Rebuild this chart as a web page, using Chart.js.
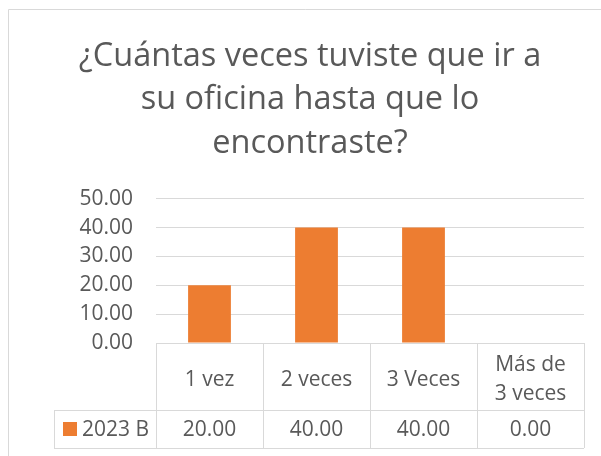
<!DOCTYPE html>
<html><head><meta charset="utf-8">
<script src="https://cdn.jsdelivr.net/npm/chart.js@4"></script>
<style>html,body{margin:0;padding:0;background:#fff}#wrap{width:601px;height:456px;position:relative}</style>
</head><body><div id="wrap"><canvas id="c"></canvas></div>
<script>
const titleLines = ["¿Cuántas veces tuviste que ir a", "su oficina hasta que lo", "encontraste?"];
const categories = [["1 vez"], ["2 veces"], ["3 Veces"], ["Más de", "3 veces"]];
const seriesName = "2023 B";
const seriesValues = [20, 40, 40, 0];
const yMin = 0, yMax = 50, yStep = 10;

const FONT = "'Open Sans', sans-serif";
const TXT = '#595959';
const GRID = '#D9D9D9';
const BAR = '#ED7D31';
const TABLE_H = 105, ROW1_H = 67, LEGEND_W = 102, PAD_L = 36, YAXIS_W = 120;
const FS = 21;

const tablePlugin = {
  id: 'dataTable',
  afterDraw(chart) {
    const ctx = chart.ctx, xs = chart.scales.x, ca = chart.chartArea;
    const n = categories.length;
    const colW = (ca.right - ca.left) / n;
    const top = ca.bottom, mid = ca.bottom + ROW1_H, bot = ca.bottom + TABLE_H;
    const legL = ca.left - LEGEND_W;
    ctx.save();
    ctx.strokeStyle = GRID; ctx.lineWidth = 1;
    ctx.beginPath();
    for (let i = 0; i <= n; i++) {
      const x = Math.round(ca.left + i * colW) + 0.5;
      ctx.moveTo(x, top); ctx.lineTo(x, bot);
    }
    ctx.moveTo(legL + 0.5, mid); ctx.lineTo(legL + 0.5, bot);
    ctx.moveTo(legL, Math.round(mid) + 0.5); ctx.lineTo(ca.right, Math.round(mid) + 0.5);
    ctx.moveTo(legL, Math.round(bot) + 0.5); ctx.lineTo(ca.right, Math.round(bot) + 0.5);
    ctx.stroke();
    // chart border
    ctx.beginPath();
    ctx.moveTo(8.5, chart.height + 5); ctx.lineTo(8.5, 9.5); ctx.lineTo(chart.width + 5, 9.5);
    ctx.stroke();
    // legend key
    const cy = (mid + bot) / 2;
    ctx.fillStyle = BAR;
    ctx.fillRect(legL + 9, cy - 7, 14, 14);
    ctx.fillStyle = TXT;
    ctx.font = FS + "px " + FONT;
    ctx.textBaseline = 'middle';
    ctx.textAlign = 'left';
    ctx.fillText(seriesName, legL + 28, cy + 1);
    ctx.textAlign = 'center';
    seriesValues.forEach((v, i) => {
      ctx.fillText(v.toFixed(2), xs.getPixelForValue(i), cy + 1);
    });
    ctx.restore();
  }
};

new Chart(document.getElementById('c'), {
  type: 'bar',
  data: {
    labels: categories,
    datasets: [{ label: seriesName, data: seriesValues, backgroundColor: BAR,
      categoryPercentage: 1.0, barPercentage: 0.4 }]
  },
  options: {
    responsive: true, maintainAspectRatio: false, animation: false,
    layout: { padding: { left: PAD_L, right: 17, top: 9, bottom: 8 } },
    plugins: {
      legend: { display: false },
      tooltip: { enabled: false },
      title: { display: true, text: titleLines, color: TXT,
        font: { family: FONT, size: 32.5, weight: 'normal', lineHeight: 1.335 },
        padding: { top: 26, bottom: 33.6 } }
    },
    scales: {
      x: {
        grid: { display: false }, border: { display: false },
        ticks: { color: TXT, font: { family: FONT, size: FS, lineHeight: 1.4 }, padding: 14, crossAlign: 'center', maxRotation: 0, autoSkip: false },
        afterFit(s) { s.height = TABLE_H; }
      },
      y: {
        min: yMin, max: yMax,
        grid: { color: GRID, drawTicks: false }, border: { display: false },
        ticks: { stepSize: yStep, color: TXT, font: { family: FONT, size: FS }, padding: 23,
          callback: v => Number(v).toFixed(2) },
        afterFit(s) { s.width = YAXIS_W; }
      }
    }
  },
  plugins: [tablePlugin]
});
</script></body></html>
